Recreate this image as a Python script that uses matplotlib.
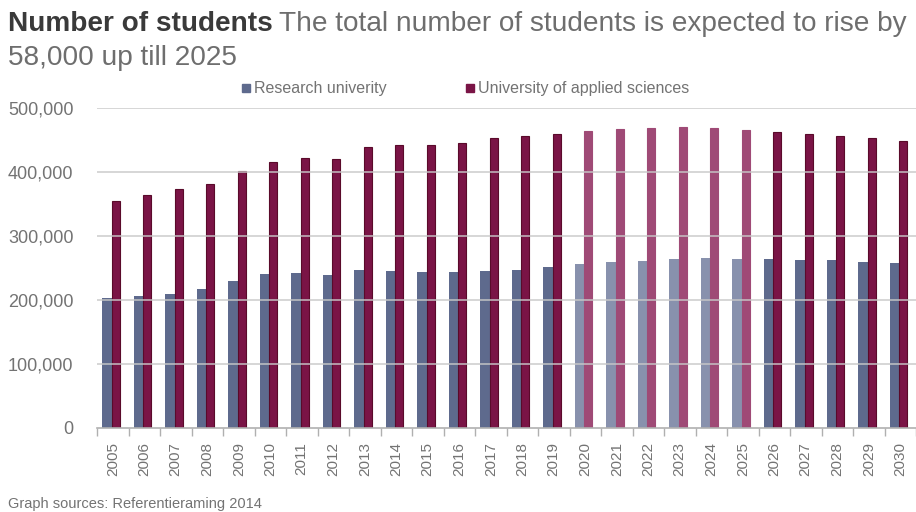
import matplotlib
matplotlib.use("Agg")
import matplotlib.pyplot as plt
from matplotlib.patches import Rectangle
import numpy as np

years = [str(y) for y in range(2005, 2031)]
research = [203700, 206800, 210000, 217800, 230400, 240300, 242900, 238700, 246600, 245000,
            243500, 243500, 245500, 247100, 251300, 255500, 258600, 261300, 263900, 264900,
            264400, 263400, 262800, 261800, 259700, 258100]
applied = [354500, 364400, 373300, 381200, 401600, 415200, 422500, 420900, 438700, 441900,
           441900, 446000, 452900, 456000, 459700, 464400, 467000, 468600, 469600, 468600,
           464900, 462300, 458600, 456000, 452400, 448700]
forecast_years = ["2020", "2021", "2022", "2023", "2024", "2025"]
yticks = [0, 100000, 200000, 300000, 400000, 500000]
ytick_labels = ["0", "100,000", "200,000", "300,000", "400,000", "500,000"]

BLUE = "#5e6a8d"
BLUE_F = "#8891ad"
RED = "#7a1446"
RED_F = "#9f4a76"
RED_EDGE = "#5a0a2a"
GRID = "#c8c8c8"
TXT = "#737373"

SANS = ["Liberation Sans", "DejaVu Sans"]

fig = plt.figure(figsize=(9.16, 5.12), dpi=100)
ax = fig.add_axes([97 / 916, 1 - 428 / 512, 819 / 916, 320 / 512])

x = np.arange(len(years))
bc = [BLUE_F if y in forecast_years else BLUE for y in years]
rc = [RED_F if y in forecast_years else RED for y in years]
re = [RED_F if y in forecast_years else RED_EDGE for y in years]
ax.bar(x - 0.18, research, width=0.30, color=bc, zorder=2, linewidth=0)
ax.bar(x + 0.095, applied, width=0.25, color=rc, edgecolor=re, linewidth=0.8, zorder=2)

ax.set_xlim(-0.5, len(years) - 0.5)
ax.set_ylim(0, 500000)
ax.set_yticks(yticks)
ax.set_yticklabels(ytick_labels, fontfamily=SANS, fontsize=13, color=TXT)
ax.tick_params(axis="y", length=0, pad=17)
for yv in yticks[1:]:
    ax.axhline(yv, color=GRID, linewidth=1.3, zorder=3, alpha=0.8)

ax.set_xticks(x)
ax.set_xticklabels(years, rotation=90, fontfamily=SANS, fontsize=11, color=TXT)
ax.set_xticks(np.arange(-0.5, len(years), 1.0), minor=True)
ax.tick_params(axis="x", which="major", length=0, pad=10)
ax.tick_params(axis="x", which="minor", length=6, color="#b0b0b0", width=1)

for s in ["top", "right", "left"]:
    ax.spines[s].set_visible(False)
ax.spines["bottom"].set_color("#b0b0b0")
ax.spines["bottom"].set_linewidth(1.2)

# Title
fig.canvas.draw()
r = fig.canvas.get_renderer()
t1 = fig.text(8 / 916, 1 - 31 / 512, "Number of students", fontfamily=SANS, fontsize=20.2,
              fontweight="bold", color="#3a3a3a", va="baseline")
bb = t1.get_window_extent(renderer=r)
fig.text(bb.x1 / 916 + 6 / 916, 1 - 31 / 512, "The total number of students is expected to rise by",
         fontfamily=SANS, fontsize=20.2, color="#6e6e6e", va="baseline")
fig.text(8 / 916, 1 - 65 / 512, "58,000 up till 2025", fontfamily=SANS, fontsize=20.2,
         color="#6e6e6e", va="baseline")

# Legend
for xs, col, lab in [(242, BLUE, "Research univerity"), (466, RED, "University of applied sciences")]:
    fig.patches.append(Rectangle((xs / 916, 1 - 92 / 512), 8 / 916, 8 / 512, color=col,
                                 transform=fig.transFigure, figure=fig))
    fig.text((xs + 12) / 916, 1 - 88 / 512, lab, fontfamily=SANS, fontsize=11.5, color=TXT,
             va="center")

fig.text(8 / 916, 1 - 504 / 512, "Graph sources: Referentieraming 2014", fontfamily=SANS,
         fontsize=10.5, color=TXT, va="center")

fig.savefig("out.png", dpi=100)
